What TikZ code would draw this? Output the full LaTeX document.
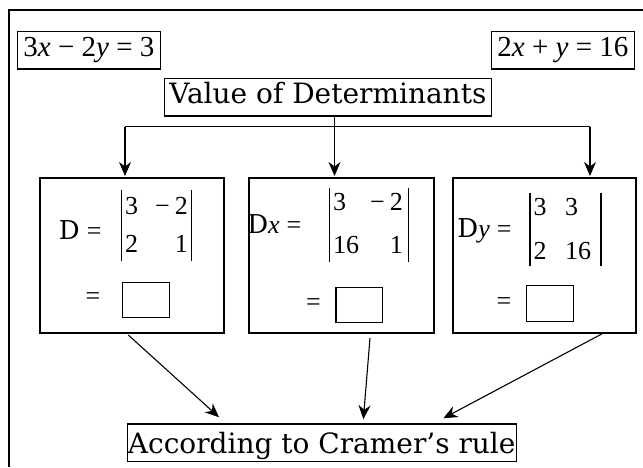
\documentclass[tikz,border=0pt]{standalone}
\usepackage{fontspec}
\setmainfont{Liberation Serif}
\newfontfamily\labelfont{DejaVu Serif}
\usetikzlibrary{arrows.meta}

\begin{document}
\begin{tikzpicture}[x=1pt,y=-1pt,
  box/.style={draw=black,line width=1.1pt,rectangle,inner sep=0pt,outer sep=0pt},
  arr/.style={line width=1.1pt,-{Stealth[length=14pt,width=12pt,inset=4.5pt]}},
  rule/.style={line width=1.1pt},
  big/.style={font=\labelfont\fontsize{28}{32}\selectfont},
  eqn/.style={font=\fontsize{29}{32}\selectfont},
  ent/.style={font=\fontsize{26}{29}\selectfont,inner sep=0pt}]
\useasboundingbox (0,0) rectangle (643,467);

% outer frame (top and left edges)
\draw[line width=1.2pt] (9,467) -- (9,10) -- (643,10);

% the two equations
\node[box,eqn,minimum width=142.3pt,minimum height=37.3pt,text height=20pt,text depth=7.3pt]
  (eqA) at (88.9,50.3) {3\textit{x} − 2\textit{y} = 3};
\node[box,eqn,minimum width=142.3pt,minimum height=37.3pt,text height=20pt,text depth=7.3pt]
  (eqB) at (562.9,50.3) {2\textit{x} + \textit{y} = 16};

% heading
\node[box,big,minimum width=327.7pt,minimum height=37.3pt,text height=20pt,text depth=6.7pt]
  (val) at (327.9,97.3) {Value of Determinants};

% three determinant panels
\node[box,minimum width=184pt,minimum height=155pt] (bD) at (132,255.5) {};
\node[box,minimum width=185pt,minimum height=155pt] (bX) at (341.5,255.5) {};
\node[box,minimum width=183pt,minimum height=155pt] (bY) at (544.5,255.5) {};

% panel D
\node[ent,anchor=base east] (lD) at (101.7,239) {{\labelfont D}\hspace{7pt}=};
\node[ent,anchor=base west] (dA11) at (125,214) {3};
\node[ent,anchor=base east] (dA12) at (188,214) {−\hspace{5pt}2};
\node[ent,anchor=base west] (dA21) at (125,252) {2};
\node[ent,anchor=base east] (dA22) at (188,252) {1};
\draw[rule] (121.2,190) -- (121.2,261);
\draw[rule] (191.5,190) -- (191.5,261);
\node[ent] (eD) at (93,299) {=};
\node[box,minimum width=46.6pt,minimum height=35.7pt] (aD) at (146,300) {};

% panel Dx
\node[ent,anchor=base east] (lX) at (301.5,233) {{\labelfont D}\textit{x}\hspace{7pt}=};
\node[ent,anchor=base west] (dB11) at (333,210) {3};
\node[ent,anchor=base east] (dB12) at (403,210) {−\hspace{5pt}2};
\node[ent,anchor=base west] (dB21) at (333,253) {16};
\node[ent,anchor=base east] (dB22) at (403,253) {1};
\draw[rule] (329.3,188) -- (329.3,262);
\draw[rule] (408.3,188) -- (408.3,262);
\node[ent] (eX) at (313.4,305) {=};
\node[box,minimum width=46.7pt,minimum height=35.7pt] (aX) at (359.3,305) {};

% panel Dy
\node[ent,anchor=base east] (lY) at (511.7,237) {{\labelfont D}\textit{y}\hspace{7pt}=};
\node[ent,anchor=base west] (dC11) at (533.5,215) {3};
\node[ent,anchor=base west] (dC12) at (565,215) {3};
\node[ent,anchor=base west] (dC21) at (533.5,259) {2};
\node[ent,anchor=base west] (dC22) at (565,259) {16};
\draw[rule] (530,193) -- (530,266);
\draw[rule] (601,193) -- (601,266);
\node[ent] (eY) at (504,304) {=};
\node[box,minimum width=46.6pt,minimum height=36pt] (aY) at (550,303.7) {};

% conclusion
\node[box,big,minimum width=388.7pt,minimum height=37.7pt,text height=24pt,text depth=3pt]
  (cram) at (321.7,442.8) {According to Cramer’s rule};

% distribution from the heading to the panels
\coordinate (barL) at (125,126.7);
\coordinate (barR) at (590,126.7);
\coordinate (split) at (334.5,126.7);
\draw[rule] (barL) -- (barR);
\draw[arr,shorten >=2pt] (val.south -| split) -- (bX.north -| split);
\draw[arr,shorten >=2pt] (barL) -- (bD.north -| barL);
\draw[arr,shorten >=2pt] (barR) -- (bY.north -| barR);

% panels into the conclusion
\draw[arr] ([xshift=88.3pt,yshift=-2pt]bD.south west) -- ([xshift=91.7pt,yshift=6.7pt]cram.north west);
\draw[arr] ([xshift=121pt,yshift=-5pt]bX.south west) -- ([xshift=236pt,yshift=4.7pt]cram.north west);
\draw[arr] ([xshift=148.7pt,yshift=-1pt]bY.south west) -- ([xshift=316pt,yshift=5.7pt]cram.north west);
\end{tikzpicture}
\end{document}
